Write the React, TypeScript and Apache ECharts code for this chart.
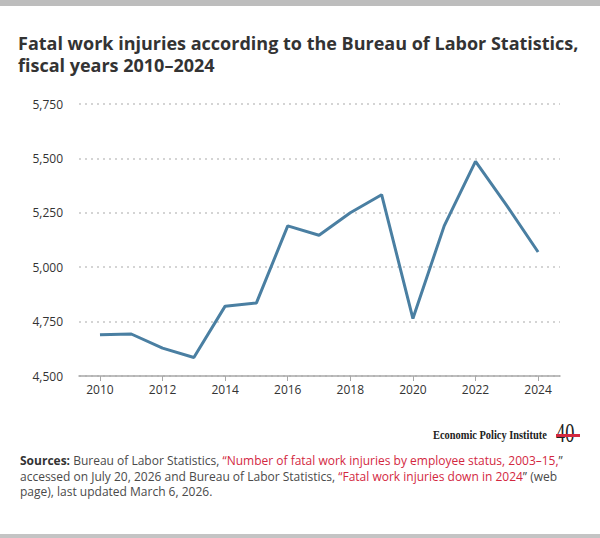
import React, { useEffect, useRef } from "react";
import * as echarts from "echarts";

// Fatal work injuries, BLS Census of Fatal Occupational Injuries
const years = [2010, 2011, 2012, 2013, 2014, 2015, 2016, 2017, 2018, 2019, 2020, 2021, 2022, 2023, 2024];
const fatalities = [4690, 4693, 4628, 4585, 4821, 4836, 5190, 5147, 5250, 5333, 4764, 5190, 5486, 5283, 5070];
const xTickYears = [2010, 2012, 2014, 2016, 2018, 2020, 2022, 2024];
const yMin = 4500;
const yMax = 5750;
const yStep = 250;

const FONT = "'Open Sans', Lato, sans-serif";
const SERIF = "'Liberation Serif', 'DejaVu Serif', serif";
const TEXT = "#333333";
const BODY = "#4a4a4a";
const RED = "#d3283f";
const SRC_SIZE = 12;
const SRC_LH = 15.5;

export default function App() {
  const ref = useRef<HTMLDivElement | null>(null);

  useEffect(() => {
    document.body.style.margin = "0";
    if (!ref.current) return;
    const chart = echarts.init(ref.current, null, { renderer: "svg" });

    const option: echarts.EChartsOption = {
      animation: false,
      backgroundColor: "#ffffff",
      grid: { left: 79, right: 40, top: 104, bottom: 162, containLabel: false },
      xAxis: {
        type: "value",
        min: 2009.33,
        max: 2024.7,
        splitLine: { show: false },
        axisLine: { show: true, lineStyle: { color: "#a8a8a8", width: 1.5 } },
        axisTick: {
          show: true,
          length: 5,
          customValues: xTickYears,
          lineStyle: { color: "#a8a8a8", width: 1 },
        },
        axisLabel: {
          customValues: xTickYears,
          formatter: (v: number) => String(Math.round(v)),
          color: TEXT,
          fontFamily: FONT,
          fontSize: 12,
          margin: 7,
        },
      },
      yAxis: {
        type: "value",
        min: yMin,
        max: yMax,
        interval: yStep,
        axisLine: { show: false },
        axisTick: { show: false },
        splitLine: {
          show: true,
          lineStyle: { color: "#d4d4d4", width: 2, type: [2, 4] },
        },
        axisLabel: {
          color: TEXT,
          fontFamily: FONT,
          fontSize: 12,
          margin: 16,
          formatter: (v: number) => v.toLocaleString("en-US"),
        },
      },
      series: [
        {
          type: "line",
          data: years.map((y, i) => [y, fatalities[i]]),
          symbol: "none",
          lineStyle: { color: "#4a7fa2", width: 3 },
          z: 3,
        },
      ],
      graphic: [
        { type: "rect", shape: { x: 0, y: 0, width: 600, height: 6 }, style: { fill: "#bdbdbd" } },
        { type: "rect", shape: { x: 0, y: 534, width: 600, height: 4 }, style: { fill: "#c4c4c4" } },
        {
          type: "text",
          x: 18,
          y: 32,
          style: {
            text: "Fatal work injuries according to the Bureau of Labor Statistics,\nfiscal years 2010–2024",
            fontFamily: FONT,
            fontWeight: "bold",
            fontSize: 18,
            lineHeight: 22,
            fill: TEXT,
          },
        },
        {
          type: "text",
          x: 433,
          y: 429,
          scaleX: 0.8,
          style: {
            text: "Economic Policy Institute",
            fontFamily: SERIF,
            fontWeight: "bold",
            fontSize: 13,
            fill: "#222222",
          },
        },
        {
          type: "text",
          x: 556,
          y: 419,
          scaleX: 0.68,
          style: {
            text: "40",
            fontFamily: SERIF,
            fontSize: 27,
            fill: "#222222",
          },
        },
        { type: "rect", shape: { x: 556, y: 434, width: 24, height: 3 }, style: { fill: RED } },
        {
          type: "text",
          x: 20,
          y: 453,
          style: {
            text:
              "{b|Sources:} {n|Bureau of Labor Statistics, }{r|“Number of fatal work injuries by employee status, 2003–15,}{n|”}\n" +
              "{n|accessed on July 20, 2026 and Bureau of Labor Statistics, }{r|“Fatal work injuries down in 2024}{n|” (web}\n" +
              "{n|page), last updated March 6, 2026.}",
            fontFamily: FONT,
            fontSize: SRC_SIZE,
            lineHeight: SRC_LH,
            fill: BODY,
            rich: {
              b: { fontFamily: FONT, fontSize: SRC_SIZE, fontWeight: "bold", fill: TEXT, lineHeight: SRC_LH },
              n: { fontFamily: FONT, fontSize: SRC_SIZE, fill: BODY, lineHeight: SRC_LH },
              r: { fontFamily: FONT, fontSize: SRC_SIZE, fill: RED, lineHeight: SRC_LH },
            },
          },
        },
      ],
    };

    chart.setOption(option);
    return () => chart.dispose();
  }, []);

  return <div ref={ref} style={{ width: 600, height: 538 }} />;
}
